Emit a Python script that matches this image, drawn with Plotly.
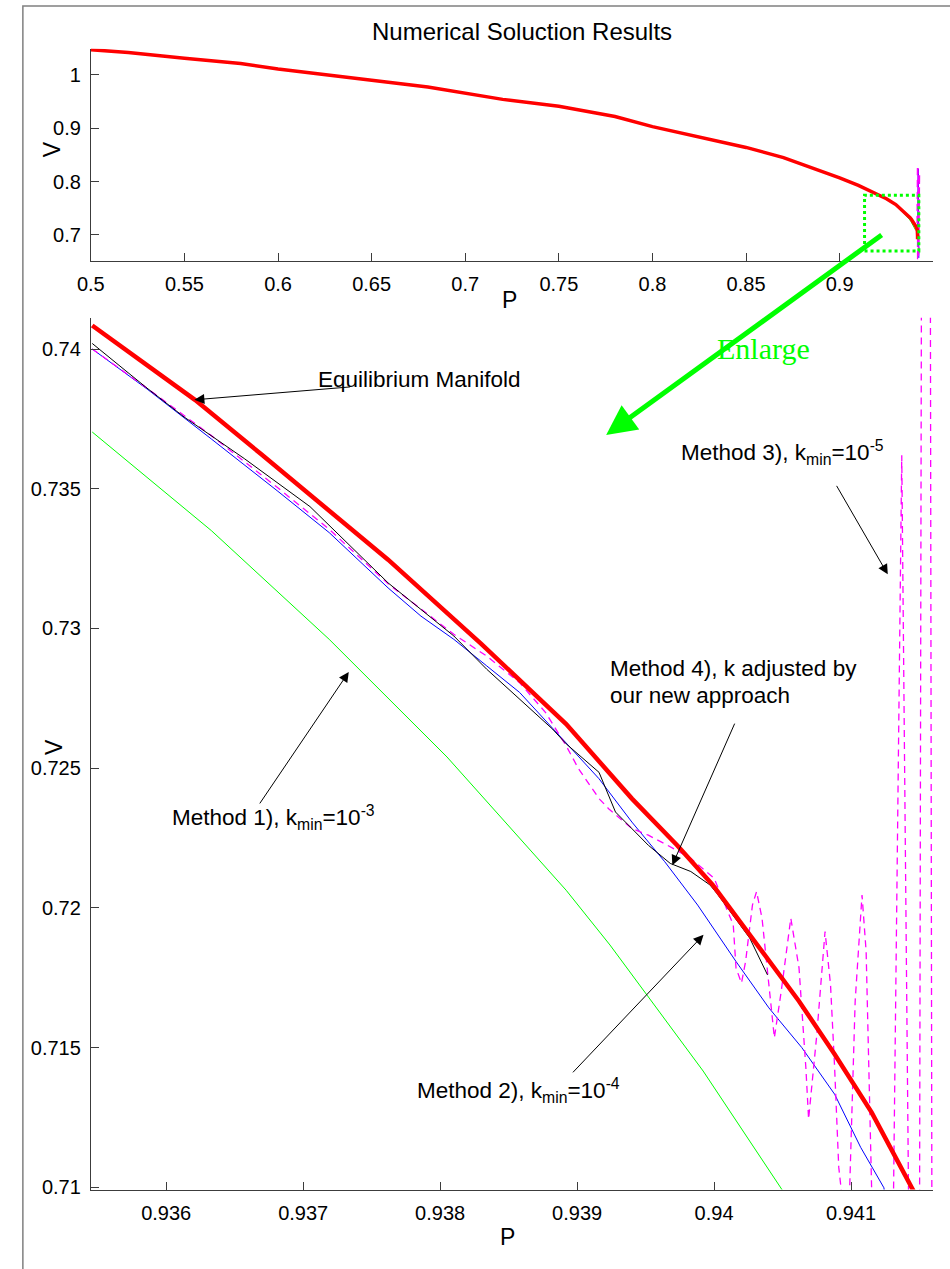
import plotly.graph_objects as go

# ---------------- data ----------------
# Upper branch of the P-V curve, shared by all solutions far from the nose
P_upper = [0.50, 0.52, 0.55, 0.58, 0.60, 0.62, 0.65, 0.68, 0.70, 0.72, 0.75,
           0.78, 0.80, 0.82, 0.85, 0.87, 0.89, 0.90, 0.91, 0.92, 0.925, 0.93]
V_upper = [1.047, 1.042, 1.031, 1.021, 1.011, 1.002, 0.990, 0.977, 0.966, 0.954, 0.941,
           0.922, 0.903, 0.887, 0.864, 0.845, 0.820, 0.807, 0.793, 0.777, 0.768, 0.757]

# Equilibrium manifold near the nose point
P_manifold = [0.93546, 0.93621, 0.93669, 0.93719, 0.93762, 0.93830, 0.93892, 0.93940,
              0.93973, 0.93999, 0.94026, 0.94062, 0.94088, 0.94115, 0.94146, 0.94160,
              0.94163]
V_manifold = [0.74084, 0.73818, 0.73625, 0.73424, 0.73246, 0.72945, 0.72658, 0.72391,
              0.72224, 0.72082, 0.71903, 0.71666, 0.71476, 0.71268, 0.70983, 0.70000,
              0.69200]

# Method 1), k_min = 1e-3
P_m1 = [0.93546, 0.93633, 0.93719, 0.93805, 0.93892, 0.93924, 0.93992, 0.94051, 0.94070]
V_m1 = [0.73703, 0.73350, 0.72961, 0.72540, 0.72063, 0.71867, 0.71416, 0.70981, 0.70830]

# Method 2), k_min = 1e-4
P_m2 = [0.93546, 0.93586, 0.93633, 0.93681, 0.93719, 0.93762, 0.93786, 0.93810, 0.93834,
        0.93858, 0.93886, 0.93916, 0.93940, 0.93964, 0.93988, 0.94016, 0.94040, 0.94064,
        0.94088, 0.94107, 0.94124, 0.94140, 0.94158, 0.94166, 0.94200, 0.94230]
V_m2 = [0.74000, 0.73857, 0.73678, 0.73493, 0.73343, 0.73145, 0.73044, 0.72961, 0.72866,
        0.72771, 0.72622, 0.72462, 0.72307, 0.72165, 0.72010, 0.71808, 0.71642, 0.71500,
        0.71333, 0.71143, 0.70998, 0.70300, 0.69500, 0.69000, 0.82400, 0.65700]

# Method 3), k_min = 1e-5 (oscillates near the nose)
P_m3 = [0.93546, 0.93586, 0.93633, 0.93681, 0.93719, 0.93762, 0.93810, 0.93834, 0.93858,
        0.93877, 0.93892, 0.93901, 0.93916, 0.93923, 0.93940, 0.93952, 0.93966, 0.93983,
        0.94000, 0.94007, 0.94014, 0.94016, 0.94020, 0.94023, 0.94028, 0.94031, 0.94035,
        0.94040, 0.94044, 0.94049, 0.94056, 0.94062, 0.94067, 0.94069, 0.94075, 0.94081,
        0.94085, 0.94088, 0.94091, 0.94096, 0.94099, 0.94103, 0.94108, 0.94111, 0.94115,
        0.94122, 0.94131, 0.94137, 0.94142, 0.94146, 0.94150, 0.94155, 0.94159, 0.94162,
        0.94190, 0.94230, 0.94270, 0.94210]
V_m3 = [0.74000, 0.73860, 0.73690, 0.73505, 0.73355, 0.73160, 0.72979, 0.72901, 0.72806,
        0.72699, 0.72580, 0.72498, 0.72391, 0.72355, 0.72284, 0.72260, 0.72224, 0.72177,
        0.72106, 0.72022, 0.71939, 0.71785, 0.71731, 0.71808, 0.72010, 0.72058, 0.71963,
        0.71725, 0.71535, 0.71701, 0.71963, 0.71785, 0.71428, 0.71244, 0.71547, 0.71915,
        0.71725, 0.71428, 0.71072, 0.70850, 0.70998, 0.71666, 0.72046, 0.71844, 0.70998,
        0.70800, 0.70980, 0.73620, 0.70950, 0.70600, 0.70900, 0.83000, 0.70900, 0.65100,
        0.82500, 0.66000, 0.81500, 0.65200]

# Method 4), k adjusted by the new approach
P_m4 = [0.93546, 0.93585, 0.93613, 0.93657, 0.93705, 0.93762, 0.93786, 0.93810, 0.93834,
        0.93858, 0.93882, 0.93892, 0.93916, 0.93928, 0.93952, 0.93968, 0.93983, 0.93997,
        0.94002, 0.94026, 0.94039]
V_m4 = [0.74020, 0.73864, 0.73757, 0.73608, 0.73436, 0.73163, 0.73068, 0.72973, 0.72854,
        0.72747, 0.72640, 0.72587, 0.72485, 0.72343, 0.72224, 0.72159, 0.72130, 0.72082,
        0.72052, 0.71892, 0.71760]

# Axis ticks
top_xticks = [0.50, 0.55, 0.60, 0.65, 0.70, 0.75, 0.80, 0.85, 0.90, 0.95]
top_xlabels = ["0.5", "0.55", "0.6", "0.65", "0.7", "0.75", "0.8", "0.85", "0.9", "0.95"]
top_yticks = [0.7, 0.8, 0.9, 1.0]
top_ylabels = ["0.7", "0.8", "0.9", "1"]
bot_xticks = [0.936, 0.937, 0.938, 0.939, 0.940, 0.941]
bot_xlabels = ["0.936", "0.937", "0.938", "0.939", "0.94", "0.941"]
bot_yticks = [0.710, 0.715, 0.720, 0.725, 0.730, 0.735, 0.740]
bot_ylabels = ["0.71", "0.715", "0.72", "0.725", "0.73", "0.735", "0.74"]

# Region of the upper plot that is enlarged below
zoom_box_P = [0.9133, 0.9423]
zoom_box_V = [0.6700, 0.7744]

# ---------------- figure ----------------
W, H = 950, 1269
FONT = "Liberation Sans, Arial, sans-serif"
AXCOL = "#3c3c3c"


def px(x):
    return x / W


def py(y):
    return 1 - y / H


fig = go.Figure()

series = [
    # name, P, V, colour, width(top), width(bottom), dash
    ("Method 1)", P_m1, V_m1, "#00ff00", 1.0, 1.0, "solid"),
    ("Method 2)", P_m2, V_m2, "#0000ff", 1.0, 1.0, "solid"),
    ("Method 3)", P_m3, V_m3, "#ff00ff", 1.3, 1.3, "7px,5px"),
    ("Method 4)", P_m4, V_m4, "#000000", 1.0, 1.0, "solid"),
    ("Equilibrium Manifold", P_manifold, V_manifold, "#ff0000", 3.5, 4.5, "solid"),
]

for name, P, V, col, w_top, w_bot, dash in series:
    fig.add_trace(go.Scatter(x=P_upper + P, y=V_upper + V, mode="lines", name=name,
                             line=dict(color=col, width=w_top, dash=dash),
                             xaxis="x", yaxis="y", showlegend=False, hoverinfo="skip"))
for name, P, V, col, w_top, w_bot, dash in series:
    fig.add_trace(go.Scatter(x=P, y=V, mode="lines", name=name,
                             line=dict(color=col, width=w_bot, dash=dash),
                             xaxis="x2", yaxis="y2", showlegend=False, hoverinfo="skip"))

axis_common = dict(showline=True, linecolor=AXCOL, linewidth=1, ticks="inside",
                   ticklen=8, tickwidth=1, tickcolor=AXCOL, showgrid=False,
                   zeroline=False, mirror=False,
                   tickfont=dict(family=FONT, size=20, color="black"))

xdom = [px(78), px(933)]
fig.update_layout(
    width=W, height=H, autosize=False,
    margin=dict(l=0, r=0, t=0, b=0),
    paper_bgcolor="white", plot_bgcolor="white",
    xaxis=dict(domain=xdom, range=[0.5, 0.95], anchor="y", tickvals=top_xticks,
               ticktext=top_xlabels, ticklabelstandoff=5, **axis_common),
    yaxis=dict(domain=[py(263), py(49)], range=[0.651, 1.049], anchor="x",
               tickvals=top_yticks, ticktext=top_ylabels, ticklabelstandoff=5,
               **axis_common),
    xaxis2=dict(domain=xdom, range=[0.93545, 0.94160], anchor="y2", tickvals=bot_xticks,
                ticktext=bot_xlabels, ticklabelstandoff=5, **axis_common),
    yaxis2=dict(domain=[py(1198), py(320)], range=[0.70992, 0.74112], anchor="x2",
                tickvals=bot_yticks, ticktext=bot_ylabels, ticklabelstandoff=5,
                **axis_common),
)

# Dotted box marking the enlarged region, and the outer frame of the figure
fig.add_shape(type="rect", xref="x", yref="y", x0=zoom_box_P[0], x1=zoom_box_P[1],
              y0=zoom_box_V[0], y1=zoom_box_V[1],
              line=dict(color="#00ff00", width=3, dash="dot"))
fig.add_shape(type="rect", xref="paper", yref="paper", x0=px(9), x1=1.01,
              y0=-0.01, y1=py(6), line=dict(color="#808080", width=1.5))

annots = []


def label(text, x, y, size, xanchor="center", angle=0, family=FONT, color="black"):
    annots.append(dict(text=text, x=px(x), y=py(y), xref="paper", yref="paper",
                       showarrow=False, xanchor=xanchor, yanchor="middle",
                       textangle=angle, font=dict(family=family, size=size, color=color)))


# Titles and axis labels
label("Numerical Soluction Results", 516, 32, 24)
label("V", 39, 150, 23, angle=-90)
label("P", 503, 302, 23)
label("V", 40, 752, 23, angle=-90)
label("P", 501, 1246, 23)

# Curve annotations
ANN = 22.5
label("Equilibrium Manifold", 307, 382, ANN, xanchor="left")
label("Method 3), k<sub>min</sub>=10<sup>-5</sup>", 675, 456, ANN, xanchor="left")
label("Method 4), k adjusted by", 603, 673.5, ANN, xanchor="left")
label("our new approach", 603, 700, ANN, xanchor="left")
label("Method 1), k<sub>min</sub>=10<sup>-3</sup>", 158, 823, ANN, xanchor="left")
label("Method 2), k<sub>min</sub>=10<sup>-4</sup>", 407, 1098, ANN, xanchor="left")
label("Enlarge", 761, 351, 30, family="Liberation Serif, Times New Roman, serif",
      color="#00ff00")


def arrow(tip_P, tip_V, dx, dy):
    annots.append(dict(text="", x=tip_P, y=tip_V, xref="x2", yref="y2",
                       showarrow=True, ax=dx, ay=dy, axref="pixel", ayref="pixel",
                       arrowhead=2, arrowsize=2.0, arrowwidth=1, arrowcolor="black",
                       standoff=0, startstandoff=0))


arrow(0.936206, 0.738182, 157, -13)    # Equilibrium Manifold
arrow(0.941268, 0.731935, -52, -90)    # Method 3)
arrow(0.939695, 0.721529, 63, -143)    # Method 4)
arrow(0.937333, 0.728443, -90, 133)    # Method 1)
arrow(0.939923, 0.719034, -132, 139)   # Method 2)

# Green "Enlarge" arrow from the upper plot into the lower one
annots.append(dict(text="", x=px(601), y=py(438), xref="paper", yref="paper",
                   showarrow=True, ax=277, ay=-201, axref="pixel", ayref="pixel",
                   arrowhead=2, arrowsize=1.2, arrowwidth=5, arrowcolor="#00ff00",
                   standoff=0, startstandoff=0))

fig.update_layout(annotations=annots)
fig.write_html("out.html")
